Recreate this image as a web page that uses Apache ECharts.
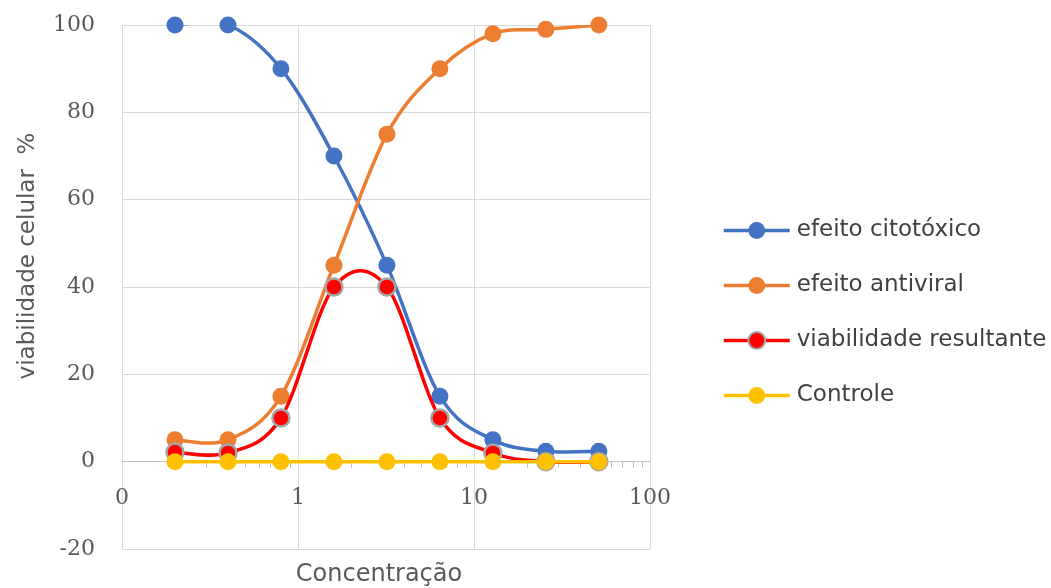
<!DOCTYPE html>
<html>
<head>
<meta charset="utf-8">
<script src="https://cdn.jsdelivr.net/npm/echarts@6/dist/echarts.min.js"></script>
<style>html,body{margin:0;padding:0;background:#fff}#c{width:1051px;height:588px}</style>
</head>
<body>
<div id="c"></div>
<script>
const concentracao = [0.2, 0.4, 0.8, 1.6, 3.2, 6.4, 12.8, 25.6, 51.2];
const citotoxico = [100, 100, 90, 70, 45, 15, 5, 2.4, 2.4];
const antiviral = [5, 5, 15, 45, 75, 90, 98, 99, 100];
const viabilidade = [2.2, 2, 10, 40, 40, 10, 2, 0, 0];
const controle = [0, 0, 0, 0, 0, 0, 0, 0, 0];
const seriesNames = ['efeito citotóxico', 'efeito antiviral', 'viabilidade resultante', 'Controle'];
const seriesColors = ['#4472C4', '#ED7D31', '#FF0000', '#FFC000'];
const yTicks = [-20, 0, 20, 40, 60, 80, 100];

const allData = [citotoxico, antiviral, viabilidade, controle];
const pairs = arr => concentracao.map((x, i) => [x, arr[i]]);

// Excel-like smoothed curve (Catmull-Rom style Bezier in pixel space), drawn through the axes' scales
function curveRenderer(arr, color) {
  return function (params, api) {
    if (params.dataIndex !== 0) return null;
    const p = concentracao.map((x, k) => api.coord([x, arr[k]]));
    const n = p.length;
    const children = [];
    for (let k = 0; k < n - 1; k++) {
      const p0 = p[Math.max(k - 1, 0)], p1 = p[k], p2 = p[k + 1], p3 = p[Math.min(k + 2, n - 1)];
      children.push({
        type: 'bezierCurve',
        shape: {
          x1: p1[0], y1: p1[1], x2: p2[0], y2: p2[1],
          cpx1: p1[0] + (p2[0] - p0[0]) / 6, cpy1: p1[1] + (p2[1] - p0[1]) / 6,
          cpx2: p2[0] - (p3[0] - p1[0]) / 6, cpy2: p2[1] - (p3[1] - p1[1]) / 6
        },
        style: {stroke: color, lineWidth: 3.5, fill: null, lineCap: 'round'}
      });
    }
    return {type: 'group', children: children};
  };
}

const series = [];
seriesNames.forEach((n, i) => {
  series.push({
    name: 'curve' + i, type: 'custom', data: pairs(allData[i]),
    renderItem: curveRenderer(allData[i], seriesColors[i]),
    clip: true, z: 2 + 2 * i, silent: true
  });
  series.push({
    name: n, type: 'line', data: pairs(allData[i]),
    symbol: 'circle', symbolSize: 17, z: 3 + 2 * i,
    lineStyle: {color: seriesColors[i], width: 3.5, opacity: 0},
    itemStyle: i === 2 ? {color: seriesColors[i], borderColor: '#A5A5A5', borderWidth: 2.5}
                       : {color: seriesColors[i]},
    clip: true
  });
});

const chart = echarts.init(document.getElementById('c'), null, {renderer: 'canvas'});
const textGray = '#595959';
chart.setOption({
  animation: false,
  backgroundColor: '#fff',
  grid: {left: 122, right: 401, top: 25, bottom: 39, containLabel: false, outerBoundsMode: 'none'},
  xAxis: {
    type: 'log', logBase: 10, min: 0.1, max: 100,
    name: 'Concentração', nameLocation: 'middle', nameGap: 14,
    nameTextStyle: {fontFamily: 'DejaVu Sans', fontSize: 24, color: textGray, padding: [0, 14, 0, 0]},
    axisLine: {show: true, onZero: true, lineStyle: {color: '#BFBFBF', width: 1}},
    axisTick: {show: false},
    minorTick: {show: true, splitNumber: 9, length: 6, lineStyle: {color: '#BFBFBF'}},
    axisLabel: {margin: -62, fontFamily: 'DejaVu Serif', fontSize: 22, color: textGray,
      formatter: v => (v < 1 ? '0' : String(Math.round(v)))},
    splitLine: {show: true, lineStyle: {color: '#D9D9D9', width: 1}}
  },
  yAxis: {
    type: 'value', min: yTicks[0], max: yTicks[yTicks.length - 1], interval: 20,
    name: 'viabilidade celular  %', nameLocation: 'middle', nameGap: 82,
    nameTextStyle: {fontFamily: 'DejaVu Sans', fontSize: 23, color: textGray, padding: [0, 0, 0, 62]},
    axisLine: {show: false},
    axisTick: {show: false},
    axisLabel: {margin: 27, fontFamily: 'DejaVu Serif', fontSize: 22, color: textGray},
    splitLine: {show: true, lineStyle: {color: '#D9D9D9', width: 1}}
  },
  legend: {
    orient: 'vertical', left: 722, top: 219, padding: 0,
    itemWidth: 66, itemHeight: 21, itemGap: 32,
    lineStyle: {opacity: 1, width: 3.5},
    textStyle: {fontFamily: 'DejaVu Sans', fontSize: 23, color: '#404040', padding: [0, 0, 0, 2]},
    data: seriesNames
  },
  series: series
});
</script>
</body>
</html>
